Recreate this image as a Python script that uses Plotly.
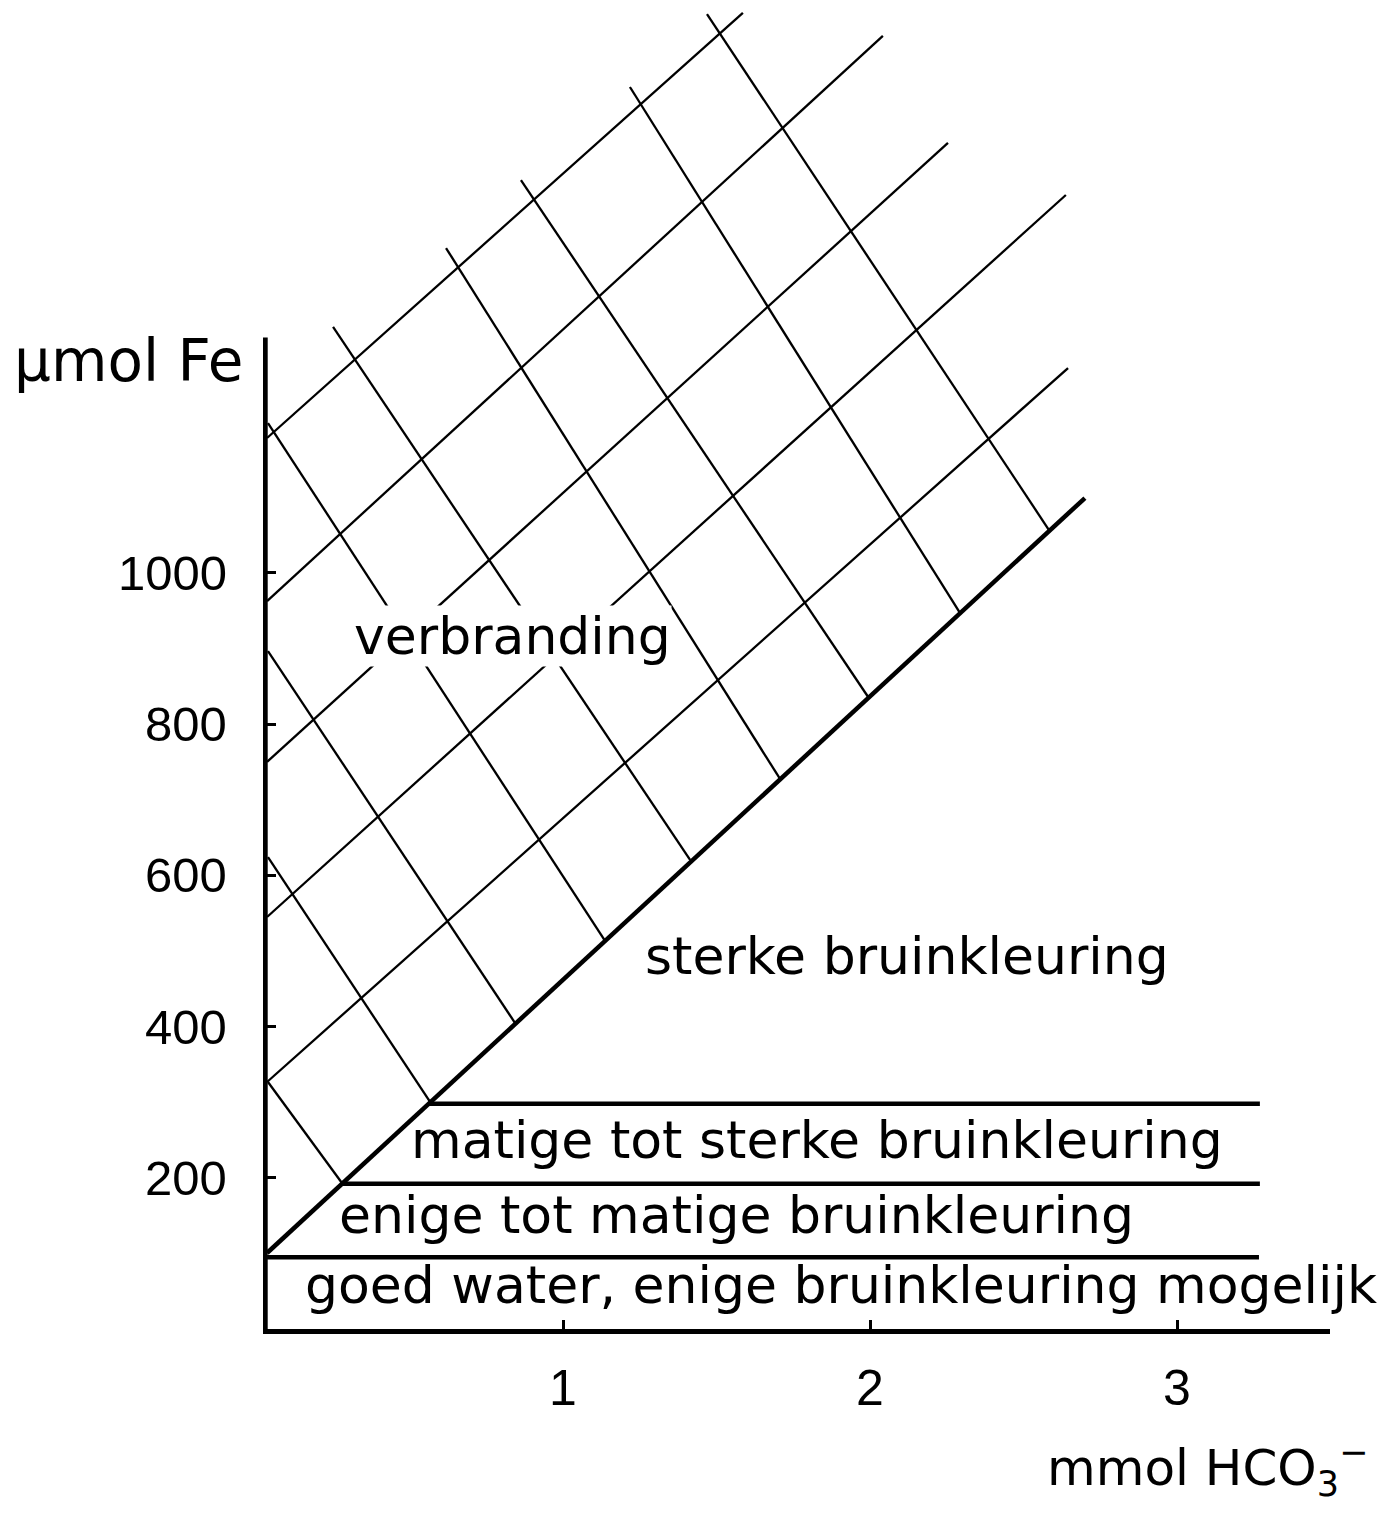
import plotly.graph_objects as go

# ---------------- data (mmol HCO3- on x, umol Fe on y) ----------------
x_ticks = [1, 2, 3]
x_tick_labels = ["1", "2", "3"]
y_ticks = [200, 400, 600, 800, 1000]
y_tick_labels = ["200", "400", "600", "800", "1000"]

# horizontal class boundaries (umol Fe) and their x extents
h_levels = [95, 192, 298]
h_x_start = [0.036, 0.279, 0.562]
h_x_end = [3.267, 3.270, 3.270]

# main (thick) diagonal boundary
diag_x = [0.036, 2.700]
diag_y = [100.5, 1098.8]

# hatch lines parallel to the diagonal
par_x0 = [0.036, 0.036, 0.036, 0.036, 0.036]
par_y0 = [326.6, 544.8, 749.8, 962.6, 1178.2]
par_x1 = [2.645, 2.638, 2.254, 2.042, 1.586]
par_y1 = [1270.7, 1499.5, 1568.3, 1709.8, 1740.2]

# crossing hatch lines
cross_x0 = [0.039, 0.039, 0.039, 0.039, 0.251, 0.619, 0.863, 1.218, 1.469]
cross_y0 = [326.6, 624.1, 896.5, 1198.0, 1325.0, 1429.4, 1519.3, 1642.3, 1738.8]
cross_x1 = [0.280, 0.567, 0.844, 1.137, 1.414, 1.707, 1.994, 2.293, 2.583]
cross_y1 = [193.1, 300.2, 404.6, 513.1, 620.2, 727.3, 835.7, 946.8, 1056.5]

# zone labels
zone_texts = ["verbranding", "sterke bruinkleuring",
              "matige tot sterke bruinkleuring",
              "enige tot matige bruinkleuring",
              "goed water, enige bruinkleuring mogelijk"]
zone_x = [0.834, 2.121, 1.827, 1.564, 1.906]
zone_y = [917, 493, 250, 151, 58]

y_axis_top = 1311
x_axis_title = "mmol HCO<sub>3</sub><sup>\u2212</sup>"
y_axis_title = "\u00b5mol Fe"

# ---------------- figure ----------------
W, H = 1399, 1520
L, R, T, B = 263, 69, 5, 191
PW, PH = W - L - R, H - T - B
x_range = [7 / 307, 1074 / 307]
y_range = [0, 1324 / 0.75625]


def px_paper(px):
    return (px - L) / PW


def py_paper(py):
    return (H - B - py) / PH


fig = go.Figure()
line_col = "black"

# y axis line (partial height as in original)
fig.add_trace(go.Scatter(x=[0.030, 0.030], y=[0, y_axis_top], mode="lines",
                         line=dict(color=line_col, width=5), hoverinfo="skip"))

for a, b, c, d in zip(par_x0, par_y0, par_x1, par_y1):
    fig.add_trace(go.Scatter(x=[a, c], y=[b, d], mode="lines",
                             line=dict(color=line_col, width=2.3), hoverinfo="skip"))
for a, b, c, d in zip(cross_x0, cross_y0, cross_x1, cross_y1):
    fig.add_trace(go.Scatter(x=[a, c], y=[b, d], mode="lines",
                             line=dict(color=line_col, width=2.3), hoverinfo="skip"))
for lvl, xs, xe in zip(h_levels, h_x_start, h_x_end):
    fig.add_trace(go.Scatter(x=[xs, xe], y=[lvl, lvl], mode="lines",
                             line=dict(color=line_col, width=4.5), hoverinfo="skip"))
fig.add_trace(go.Scatter(x=diag_x, y=diag_y, mode="lines",
                         line=dict(color=line_col, width=4.5), hoverinfo="skip"))

font_main = "DejaVu Sans, Arial, sans-serif"
font_tick = "Liberation Sans, Arial, sans-serif"

annotations = []
for t, x, y in zip(zone_texts, zone_x, zone_y):
    ann = dict(x=x, y=y, xref="x", yref="y", text=t, showarrow=False,
               xanchor="center", yanchor="middle",
               font=dict(family=font_main, size=52, color="black"))
    if t == "verbranding":
        ann.update(bgcolor="white", borderpad=0)
    annotations.append(ann)

for v, lab in zip(x_ticks, x_tick_labels):
    annotations.append(dict(x=v, y=py_paper(1388), xref="x", yref="paper", text=lab,
                            showarrow=False, xanchor="center", yanchor="middle",
                            font=dict(family=font_tick, size=50, color="black")))
for v, lab in zip(y_ticks, y_tick_labels):
    annotations.append(dict(x=px_paper(229), y=v, xref="paper", yref="y", text=lab,
                            showarrow=False, xanchor="right", yanchor="middle",
                            font=dict(family=font_tick, size=49, color="black")))

annotations.append(dict(x=px_paper(1045), y=py_paper(1468), xref="paper", yref="paper",
                        text=x_axis_title, showarrow=False, xanchor="left", yanchor="middle",
                        font=dict(family=font_main, size=50, color="black")))
annotations.append(dict(x=px_paper(128), y=py_paper(361), xref="paper", yref="paper",
                        text=y_axis_title, showarrow=False, xanchor="center", yanchor="middle",
                        font=dict(family=font_main, size=58, color="black")))

fig.update_layout(
    width=W, height=H,
    margin=dict(l=L, r=R, t=T, b=B, pad=0),
    paper_bgcolor="white", plot_bgcolor="white",
    showlegend=False,
    annotations=annotations,
    xaxis=dict(range=x_range, showgrid=False, zeroline=False, showline=True,
               linecolor="black", linewidth=5, ticks="inside", ticklen=9, tickwidth=3,
               tickcolor="black", tickvals=x_ticks, showticklabels=False, fixedrange=True),
    yaxis=dict(range=y_range, showgrid=False, zeroline=False, showline=False,
               ticks="inside", ticklen=13, tickwidth=3, tickcolor="black",
               tickvals=y_ticks, showticklabels=False, fixedrange=True),
)

fig.write_html("out.html", config={"displayModeBar": False},
               post_script="document.body.style.margin='0';")
